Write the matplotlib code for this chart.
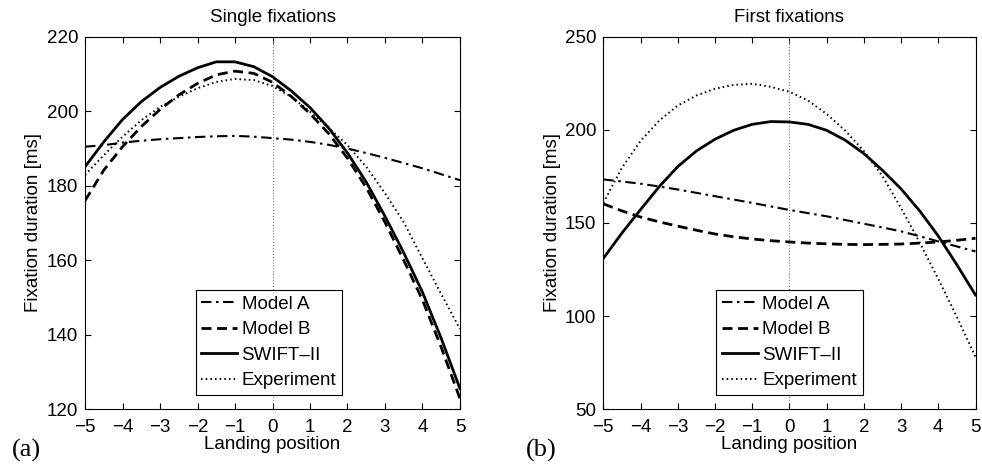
import matplotlib
matplotlib.use("Agg")
import matplotlib.pyplot as plt
import numpy as np

matplotlib.rcParams["font.family"] = "Liberation Sans"
matplotlib.rcParams["font.size"] = 13.5
matplotlib.rcParams["axes.linewidth"] = 0.8

# Landing positions (letters relative to word centre)
landing = np.arange(-5, 5.01, 0.5)

# (a) single fixation durations [ms]
single_model_a = [190.5, 190.9, 191.6, 192.1, 192.5, 192.8, 193.1, 193.3, 193.4, 193.2, 192.8,
                  192.4, 191.8, 191.0, 190.0, 188.8, 187.5, 186.1, 184.7, 183.1, 181.5]
single_model_b = [176.0, 184.2, 190.5, 195.9, 200.5, 204.4, 207.5, 209.8, 210.8, 210.2, 207.8,
                  204.0, 199.4, 194.0, 187.4, 179.5, 170.2, 160.0, 149.3, 136.6, 122.8]
single_swift = [185.1, 191.8, 197.8, 202.6, 206.4, 209.4, 211.7, 213.3, 213.3, 212.0, 209.3,
                205.5, 201.0, 195.5, 188.8, 181.0, 171.8, 162.0, 151.4, 139.0, 125.5]
single_exp = [182.9, 188.2, 193.2, 197.6, 201.2, 203.9, 206.2, 207.9, 208.7, 208.4, 206.8,
              203.9, 199.9, 195.6, 190.9, 185.1, 178.0, 170.2, 160.5, 150.9, 141.5]

# (b) first fixation durations [ms]
first_model_a = [173.4, 172.3, 171.1, 169.6, 168.0, 166.2, 164.4, 162.6, 160.8, 158.9, 157.0,
                 155.3, 153.6, 151.6, 149.6, 147.6, 145.5, 142.9, 140.1, 137.4, 134.7]
first_model_b = [160.3, 156.5, 153.2, 150.6, 148.3, 146.1, 144.1, 142.6, 141.4, 140.5, 139.8,
                 139.2, 138.8, 138.5, 138.4, 138.5, 138.7, 139.2, 139.8, 140.7, 141.8]
first_swift = [131.0, 144.6, 157.2, 169.5, 180.3, 188.7, 195.0, 199.8, 203.0, 204.5, 204.3,
               203.0, 199.8, 194.5, 187.3, 178.3, 168.3, 156.5, 143.0, 127.5, 111.3]
first_exp = [160.8, 179.7, 194.1, 205.0, 213.1, 218.5, 222.1, 224.2, 224.8, 223.2, 220.5,
             215.8, 208.6, 199.6, 188.7, 175.2, 158.0, 139.5, 119.9, 99.5, 78.0]

labels = ["Model A", "Model B", "SWIFT\u2013II", "Experiment"]
styles = [
    dict(ls=(0, (5, 2.2, 1.2, 2.2)), lw=1.5),
    dict(ls=(0, (3.6, 2.0)), lw=2.0),
    dict(ls="-", lw=2.0),
    dict(ls=(0, (0.8, 1.6)), lw=1.4),
]

fig = plt.figure(figsize=(9.82, 4.67), dpi=100)
ax1 = fig.add_axes([0.0866, 0.124, 0.3818, 0.797])
ax2 = fig.add_axes([0.6144, 0.124, 0.3790, 0.797])

panels = [
    (ax1, [single_model_a, single_model_b, single_swift, single_exp],
     "Single fixations", (120, 220), np.arange(120, 221, 20), "(a)", 0.012, 0.49),
    (ax2, [first_model_a, first_model_b, first_swift, first_exp],
     "First fixations", (50, 250), np.arange(50, 251, 50), "(b)", 0.536, 0.50),
]

for ax, series, title, ylim, yticks, tag, tag_x, leg_x in panels:
    ax.axvline(0, color="0.4", ls=(0, (1, 2)), lw=0.7)
    for values, label, st in zip(series, labels, styles):
        ax.plot(landing, values, color="k", label=label, **st)
    ax.set_xlim(-5, 5)
    ax.set_ylim(*ylim)
    ax.set_xticks(np.arange(-5, 6, 1))
    ax.set_yticks(yticks)
    ax.tick_params(direction="in", top=True, right=True, length=4, width=0.8, pad=5)
    ax.tick_params(axis="x", pad=7)
    ax.set_title(title, pad=11, fontsize=13.5)
    ax.set_xlabel("Landing position", labelpad=0)
    ax.set_ylabel("Fixation duration [ms]", labelpad=3)
    leg = ax.legend(loc="lower center", bbox_to_anchor=(leg_x, 0.038), borderaxespad=0,
                    fancybox=False, edgecolor="k", framealpha=1, handlelength=1.9,
                    handletextpad=0.25, labelspacing=0.45, borderpad=0.3, fontsize=13.5)
    leg.get_frame().set_linewidth(0.8)
    fig.text(tag_x, 0.035, tag, family="Liberation Serif", fontsize=19, va="center")

fig.savefig("out.png", dpi=100)
